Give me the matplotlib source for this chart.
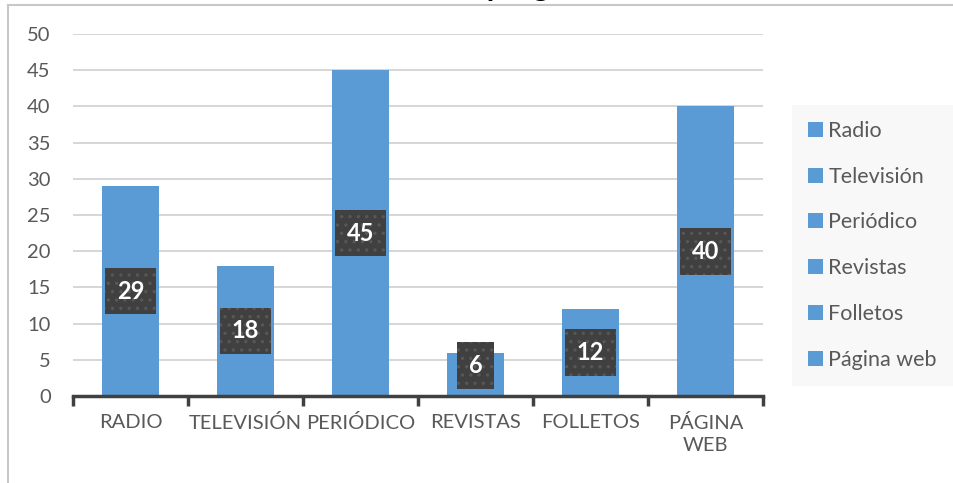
import matplotlib.pyplot as plt
from matplotlib.lines import Line2D
from matplotlib.patches import Patch

categorias = ["RADIO", "TELEVISIÓN", "PERIÓDICO", "REVISTAS", "FOLLETOS", "PÁGINA\nWEB"]
leyenda = ["Radio", "Televisión", "Periódico", "Revistas", "Folletos", "Página web"]
valores = [29, 18, 45, 6, 12, 40]
titulo = "Medios de programación"

azul = "#5b9bd5"
gris_texto = "#595959"

plt.rcParams["font.family"] = ["Lato", "DejaVu Sans"]
plt.rcParams["hatch.linewidth"] = 1.2

fig = plt.figure(figsize=(9.54, 4.83), dpi=100)
ax = fig.add_axes([0.0765, 0.180, 0.7233, 0.7495])

x = list(range(len(valores)))
ax.bar(x, valores, width=0.5, color=azul, zorder=2)

ax.set_xlim(-0.5, len(valores) - 0.5)
ax.set_ylim(0, 50)
ax.set_yticks(range(0, 51, 5))
ax.yaxis.grid(True, color="#d0d0d0", linewidth=1.2, zorder=0)
ax.set_axisbelow(True)

for s in ["left", "right", "top"]:
    ax.spines[s].set_visible(False)
ax.spines["bottom"].set_color("#404040")
ax.spines["bottom"].set_linewidth(2.5)

ax.tick_params(axis="y", length=0, pad=16, labelsize=14.5, labelcolor=gris_texto)
ax.set_xticks(x)
ax.set_xticklabels(categorias, fontsize=14.5, color=gris_texto, linespacing=1.35)
ax.tick_params(axis="x", length=0, pad=13)
ax.set_xticks([i - 0.5 for i in range(len(valores) + 1)], minor=True)
ax.tick_params(axis="x", which="minor", length=7, width=2.5, color="#404040")

# etiquetas de datos en cajas oscuras
for xi, v in zip(x, valores):
    ax.text(xi, max(v / 2, 4.2), str(v), ha="center", va="center",
            fontsize=17, fontweight="bold", color="white", zorder=4,
            bbox=dict(boxstyle="square,pad=0.5", facecolor="#404040",
                      edgecolor="#575757", linewidth=0, hatch=".."))

handles = [Patch(facecolor=azul, edgecolor="none") for _ in leyenda]
leg = fig.legend(handles, leyenda, loc="center left", bbox_to_anchor=(0.830, 0.492),
                 fontsize=15.5, frameon=True, fancybox=False, labelspacing=1.2,
                 handlelength=0.7, handleheight=0.7, handletextpad=0.25,
                 borderpad=0.75, borderaxespad=0)
leg.get_frame().set_facecolor("#f7f7f7")
leg.get_frame().set_edgecolor("none")
for t in leg.get_texts():
    t.set_color(gris_texto)

# título recortado por el borde superior
fig.text(0.530, 1.008, titulo, ha="center", va="baseline", fontsize=22,
         fontweight="bold", color="black")

# borde del gráfico
fig.add_artist(Line2D([0.0084, 1.0], [0.9896, 0.9896], color="#c8c8c8", linewidth=1.5))
fig.add_artist(Line2D([0.0084, 0.0084], [0.0, 0.9896], color="#c8c8c8", linewidth=1.5))

fig.savefig("out.png", dpi=100)
